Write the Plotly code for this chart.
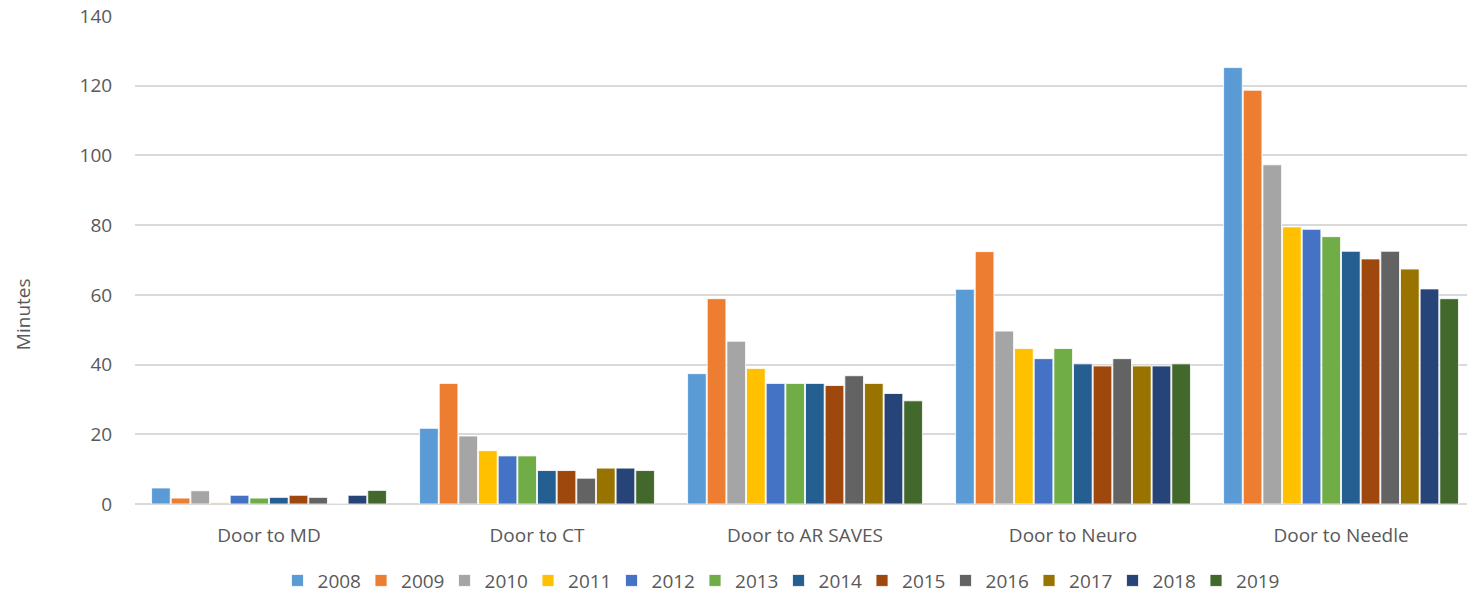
import plotly.graph_objects as go

# Median door-to-event times by year
categories = ["Door to MD", "Door to CT", "Door to AR SAVES", "Door to Neuro", "Door to Needle"]
years = ["2008", "2009", "2010", "2011", "2012", "2013", "2014", "2015", "2016", "2017", "2018", "2019"]

v2008 = [4.6, 21.7, 37.4, 61.6, 125.2]
v2009 = [1.7, 34.6, 58.9, 72.4, 118.7]
v2010 = [3.8, 19.5, 46.7, 49.6, 97.3]
v2011 = [0.4, 15.3, 38.9, 44.6, 79.5]
v2012 = [2.5, 13.8, 34.6, 41.7, 78.8]
v2013 = [1.7, 13.8, 34.6, 44.6, 76.7]
v2014 = [1.9, 9.6, 34.6, 40.2, 72.5]
v2015 = [2.5, 9.6, 34.0, 39.6, 70.3]
v2016 = [1.9, 7.4, 36.8, 41.7, 72.5]
v2017 = [0.0, 10.3, 34.6, 39.6, 67.4]
v2018 = [2.5, 10.3, 31.7, 39.6, 61.7]
v2019 = [3.9, 9.6, 29.6, 40.2, 58.9]

series = [v2008, v2009, v2010, v2011, v2012, v2013, v2014, v2015, v2016, v2017, v2018, v2019]
colors = ["#5B9BD5", "#ED7D31", "#A5A5A5", "#FFC000", "#4472C4", "#70AD47",
          "#255E91", "#9E480E", "#636363", "#997300", "#264478", "#43682B"]

FONT = "Open Sans"
TXT = "#595959"
SIZE = 19

fig = go.Figure()
for name, vals, col in zip(years, series, colors):
    fig.add_trace(go.Bar(
        name=name, x=list(range(len(categories))), y=vals,
        marker=dict(color=col, line=dict(color="white", width=0.8)),
    ))

fig.update_layout(
    width=1467, height=597,
    margin=dict(l=135, r=0, t=16, b=93, autoexpand=False),
    paper_bgcolor="white", plot_bgcolor="white",
    barmode="group", bargap=0.12, bargroupgap=0.05,
    font=dict(family=FONT, size=SIZE, color=TXT),
    showlegend=True,
    legend=dict(
        orientation="h", x=0.107, xanchor="left", y=-0.118, yanchor="top",
        font=dict(family=FONT, size=SIZE, color=TXT),
        itemwidth=30, entrywidth=38.5, entrywidthmode="pixels",
        traceorder="normal", bgcolor="rgba(0,0,0,0)",
    ),
    xaxis=dict(
        tickmode="array", tickvals=list(range(len(categories))), ticktext=categories,
        range=[-0.5, 4.47], showgrid=False, zeroline=False, showline=False,
        ticks="outside", ticklen=14, tickcolor="rgba(0,0,0,0)",
        tickfont=dict(family=FONT, size=SIZE, color=TXT),
    ),
    yaxis=dict(
        range=[0, 140], dtick=20, showgrid=True, gridcolor="#D9D9D9", gridwidth=1.5,
        zeroline=True, zerolinecolor="#D9D9D9", zerolinewidth=1.5, showline=False,
        ticks="outside", ticklen=18, tickcolor="rgba(0,0,0,0)",
        tickfont=dict(family=FONT, size=SIZE, color=TXT),
    ),
    annotations=[dict(
        text="Minutes", textangle=-90, xref="paper", yref="paper",
        x=-0.0845, y=0.39, xanchor="center", yanchor="middle", showarrow=False,
        font=dict(family=FONT, size=SIZE, color=TXT),
    )],
)

fig.write_html("out.html")
